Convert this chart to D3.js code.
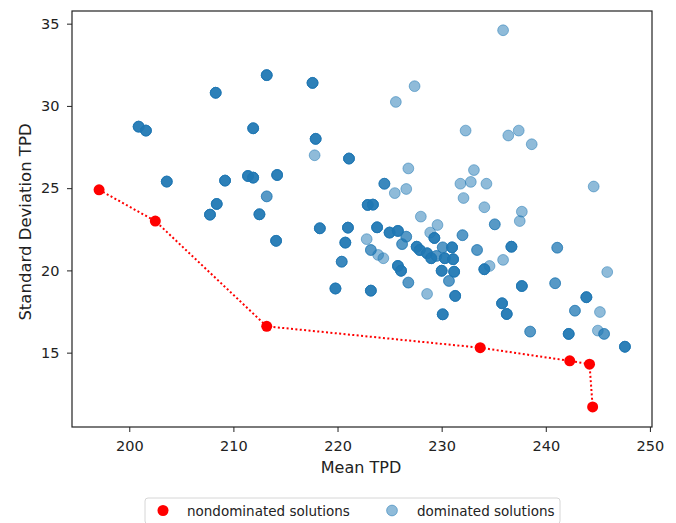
<!DOCTYPE html>
<html lang="en">
  <head>
    <meta charset="UTF-8" />
    <title>Mean vs SD TPD</title>
    <style>
      body { margin: 0; background: #fff; }
      text { font-family: "DejaVu Sans", sans-serif; fill: #222; }
      .axis text { font-size: 14.5px; }
      .axis path, .axis line { stroke: #222; }
    </style>
  </head>
  <body>
    <svg id="chart"></svg>
    <script src="https://cdnjs.cloudflare.com/ajax/libs/d3/7.8.5/d3.min.js"></script>
    <script>
      // nondominated solutions (pareto front), sorted by mean
      const ndMean = [197.1, 202.5, 213.2, 233.7, 242.3, 244.2, 244.5];
      const ndStd = [24.9, 23.0, 16.6, 15.3, 14.5, 14.3, 11.7];

      // dominated solutions; count = how many solutions sit on the same spot
      const domMean = [
        213.2, 217.6, 208.3, 200.9, 201.6, 211.9, 217.9, 217.8, 221.1, 203.6,
        209.2, 211.4, 211.9, 214.2, 213.2, 208.4, 207.75, 212.5, 218.3, 214.1,
        235.9, 227.4, 225.6, 232.3, 236.4, 237.4, 238.65, 226.8, 233.1, 231.8,
        232.8, 234.3, 224.5, 226.6, 244.6, 225.5, 222.9, 223.4, 232.1, 234.1,
        237.7, 237.5, 228.0, 229.6, 235.1, 221.0, 223.8, 228.9, 225.0, 225.8,
        226.6, 222.8, 220.75, 229.3, 226.2, 230.1, 231.0, 232.0, 227.6, 227.9,
        228.6, 229.0, 229.5, 230.3, 231.1, 233.4, 236.7, 241.1, 223.2, 223.9,
        224.4, 220.4, 225.8, 226.1, 230.0, 231.2, 234.1, 234.6, 235.9, 226.8,
        230.7, 219.8, 223.2, 228.6, 231.3, 230.1, 235.8, 236.25, 245.9, 237.7,
        240.9, 243.9, 242.8, 245.2, 238.5, 242.2, 245.0, 245.6, 247.6
      ];
      const domStd = [
        31.87, 31.4, 30.8, 28.74, 28.5, 28.64, 28.0, 27.0, 26.8, 25.4,
        25.46, 25.74, 25.64, 25.8, 24.5, 24.04, 23.39, 23.41, 22.56, 21.8,
        34.6, 31.2, 30.24, 28.5, 28.2, 28.5, 27.67, 26.2, 26.1, 25.27,
        25.38, 25.27, 25.27, 24.95, 25.1, 24.7, 23.98, 24.0, 24.4, 23.84,
        23.57, 23.0, 23.27, 22.76, 22.8, 22.6, 22.62, 22.3, 22.3, 22.4,
        22.05, 21.9, 21.69, 21.97, 21.6, 21.4, 21.4, 22.14, 21.44, 21.24,
        21.04, 20.74, 20.88, 20.74, 20.68, 21.24, 21.44, 21.38, 21.24, 20.94,
        20.74, 20.53, 20.27, 19.98, 19.98, 19.92, 20.07, 20.27, 20.64, 19.26,
        19.36, 18.9, 18.77, 18.57, 18.45, 17.33, 18.0, 17.35, 19.9, 19.05,
        19.22, 18.37, 17.55, 17.47, 16.28, 16.14, 16.34, 16.14, 15.36
      ];
      const domCount = [
        4, 4, 4, 4, 4, 4, 4, 1, 4, 4,
        4, 4, 4, 4, 2, 4, 4, 4, 4, 4,
        1, 1, 1, 1, 1, 1, 1, 1, 1, 1,
        1, 1, 3, 1, 1, 1, 4, 4, 1, 1,
        1, 1, 1, 1, 2, 4, 4, 1, 4, 4,
        2, 1, 4, 4, 2, 2, 4, 2, 4, 4,
        4, 4, 2, 4, 4, 2, 4, 2, 2, 1,
        1, 3, 4, 4, 4, 4, 4, 1, 1, 2,
        2, 4, 4, 1, 4, 4, 4, 4, 1, 4,
        2, 4, 2, 1, 2, 4, 1, 2, 4
      ];

      const xTicks = [200, 210, 220, 230, 240, 250];
      const yTicks = [15, 20, 25, 30, 35];

      const W = 676, H = 523;
      const m = { left: 72, right: 652, top: 11, bottom: 427 };

      const svg = d3.select("#chart").attr("width", W).attr("height", H);

      const x = d3.scaleLinear().domain([194.5, 250.2]).range([m.left, m.right]);
      const y = d3.scaleLinear().domain([10.48, 35.77]).range([m.bottom, m.top]);

      const blue = "#1f77b4";

      // axes
      svg.append("g")
        .attr("class", "axis")
        .attr("transform", `translate(0,${m.bottom})`)
        .call(d3.axisBottom(x).tickValues(xTicks).tickSize(5).tickPadding(9).tickSizeOuter(0))
        .call((g) => g.select(".domain").remove());

      svg.append("g")
        .attr("class", "axis")
        .attr("transform", `translate(${m.left},0)`)
        .call(d3.axisLeft(y).tickValues(yTicks).tickSize(5).tickPadding(7.5).tickSizeOuter(0))
        .call((g) => g.select(".domain").remove());

      // pareto line
      const pts = ndMean.map((d, i) => [d, ndStd[i]]);
      svg.append("path")
        .datum(pts)
        .attr("fill", "none")
        .attr("stroke", "red")
        .attr("stroke-width", 2)
        .attr("stroke-dasharray", "2,2.4")
        .attr("d", d3.line().x((d) => x(d[0])).y((d) => y(d[1])));

      svg.append("g")
        .selectAll("circle")
        .data(pts)
        .join("circle")
        .attr("cx", (d) => x(d[0]))
        .attr("cy", (d) => y(d[1]))
        .attr("r", 5.5)
        .attr("fill", "red");

      // dominated points, one circle per solution
      const dom = [];
      domMean.forEach((d, i) => {
        for (let k = 0; k < domCount[i]; k++) dom.push([d, domStd[i]]);
      });
      svg.append("g")
        .selectAll("circle")
        .data(dom)
        .join("circle")
        .attr("cx", (d) => x(d[0]))
        .attr("cy", (d) => y(d[1]))
        .attr("r", 5.4)
        .attr("fill", blue)
        .attr("fill-opacity", 0.5)
        .attr("stroke", blue)
        .attr("stroke-opacity", 0.5)
        .attr("stroke-width", 1);

      // frame
      svg.append("rect")
        .attr("x", m.left)
        .attr("y", m.top)
        .attr("width", m.right - m.left)
        .attr("height", m.bottom - m.top)
        .attr("fill", "none")
        .attr("stroke", "#222")
        .attr("stroke-width", 1.2);

      // axis labels
      svg.append("text")
        .attr("x", 361)
        .attr("y", 473)
        .attr("text-anchor", "middle")
        .attr("font-size", 16)
        .text("Mean TPD");

      svg.append("text")
        .attr("transform", "translate(31,222) rotate(-90)")
        .attr("text-anchor", "middle")
        .attr("font-size", 16.5)
        .text("Standard Deviation TPD");

      // legend
      const lg = svg.append("g");
      lg.append("rect")
        .attr("x", 145).attr("y", 498)
        .attr("width", 415).attr("height", 26)
        .attr("rx", 3)
        .attr("fill", "#fff")
        .attr("stroke", "#d6d6d6");
      lg.append("circle").attr("cx", 163).attr("cy", 510.5).attr("r", 5.5).attr("fill", "red");
      lg.append("text").attr("x", 187).attr("y", 515.5).attr("font-size", 13.5).text("nondominated solutions");
      lg.append("circle").attr("cx", 392).attr("cy", 510.5).attr("r", 5.4)
        .attr("fill", blue).attr("fill-opacity", 0.5)
        .attr("stroke", blue).attr("stroke-opacity", 0.5);
      lg.append("text").attr("x", 417).attr("y", 515.5).attr("font-size", 13.5).text("dominated solutions");
    </script>
  </body>
</html>
